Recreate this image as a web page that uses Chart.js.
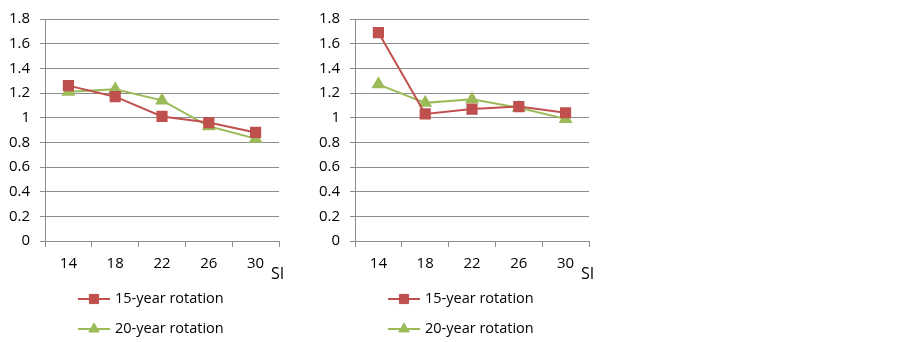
<!DOCTYPE html>
<html>
<head>
<meta charset="utf-8">
<script src="https://cdn.jsdelivr.net/npm/chart.js@4.4.1/dist/chart.umd.min.js"></script>
<style>
  html, body { margin: 0; padding: 0; background: #fff; }
  body { width: 903px; height: 342px; position: relative; overflow: hidden; }
  .box { position: absolute; top: 0; width: 300px; height: 342px; }
</style>
</head>
<body>
<div class="box" style="left:0px"><canvas id="chartLeft"></canvas></div>
<div class="box" style="left:310px"><canvas id="chartRight"></canvas></div>
<script>
// site index classes on the x axis
const siLabels = ['14', '18', '22', '26', '30'];
const seriesNames = ['15-year rotation', '20-year rotation'];

// left panel
const left15 = [1.26, 1.17, 1.01, 0.96, 0.88];
const left20 = [1.21, 1.23, 1.14, 0.93, 0.83];

// right panel
const right15 = [1.69, 1.03, 1.07, 1.09, 1.04];
const right20 = [1.27, 1.12, 1.15, 1.08, 0.99];

const RED = '#C0504D';
const GREEN = '#9BBB59';
const GRID = '#8c8c8c';
const FONT = "'Open Sans', sans-serif";

// draws the legend under the plot and the "SI" axis name
const extras = {
    id: 'extras',
    afterDraw(chart) {
        const c = chart.ctx;
        const area = chart.chartArea;
        c.save();
        c.fillStyle = '#000';
        c.font = '16px ' + FONT;
        c.textBaseline = 'middle';
        c.textAlign = 'left';
        c.fillText('SI', area.right - 8, area.bottom + 33);

        chart.data.datasets.forEach((ds, i) => {
            const y = 299 + i * 30;
            const x0 = 78, x1 = 110;
            c.strokeStyle = ds.borderColor;
            c.lineWidth = 2;
            c.beginPath();
            c.moveTo(x0, y);
            c.lineTo(x1, y);
            c.stroke();
            c.fillStyle = ds.backgroundColor;
            c.strokeStyle = ds.borderColor;
            c.lineWidth = 1;
            Chart.helpers.drawPoint(c, {
                pointStyle: ds.pointStyle,
                radius: ds.pointRadius,
                borderWidth: 1
            }, (x0 + x1) / 2, y);
            c.fillStyle = '#000';
            c.font = '14.5px ' + FONT;
            c.fillText(ds.label, 115, y);
        });
        c.restore();
    }
};

function makeChart(id, a, b) {
    const ctx = document.getElementById(id).getContext('2d');
    return new Chart(ctx, {
        type: 'line',
        data: {
            labels: siLabels,
            datasets: [
                {
                    label: seriesNames[0],
                    data: a,
                    borderColor: RED,
                    backgroundColor: RED,
                    pointBackgroundColor: RED,
                    pointBorderColor: RED,
                    borderWidth: 2,
                    pointStyle: 'rect',
                    pointRadius: 6.5,
                    tension: 0
                },
                {
                    label: seriesNames[1],
                    data: b,
                    borderColor: GREEN,
                    backgroundColor: GREEN,
                    pointBackgroundColor: GREEN,
                    pointBorderColor: GREEN,
                    borderWidth: 2,
                    pointStyle: 'triangle',
                    pointRadius: 6,
                    tension: 0
                }
            ]
        },
        options: {
            responsive: false,
            animation: false,
            devicePixelRatio: 1,
            layout: { padding: { top: 9, right: 21, bottom: 71, left: 0 } },
            plugins: { legend: { display: false }, tooltip: { enabled: false } },
            scales: {
                x: {
                    offset: true,
                    grid: {
                        offset: true,
                        drawOnChartArea: false,
                        drawTicks: true,
                        tickLength: 6,
                        color: GRID
                    },
                    border: { color: GRID, width: 1 },
                    ticks: { color: '#000', font: { family: FONT, size: 15 }, padding: 8, maxRotation: 0 },
                    afterFit(s) { s.height = 30; }
                },
                y: {
                    min: 0,
                    max: 1.8,
                    grid: { color: GRID, tickLength: 5, lineWidth: 1 },
                    border: { color: GRID, width: 1 },
                    ticks: {
                        stepSize: 0.2,
                        color: '#000',
                        font: { family: FONT, size: 15 },
                        padding: 10,
                        callback: v => Math.round(v * 10) / 10
                    },
                    afterFit(s) { s.width = 45; }
                }
            }
        },
        plugins: [extras]
    });
}

document.getElementById('chartLeft').width = 300;
document.getElementById('chartLeft').height = 342;
document.getElementById('chartRight').width = 300;
document.getElementById('chartRight').height = 342;

makeChart('chartLeft', left15, left20);
makeChart('chartRight', right15, right20);
</script>
</body>
</html>
